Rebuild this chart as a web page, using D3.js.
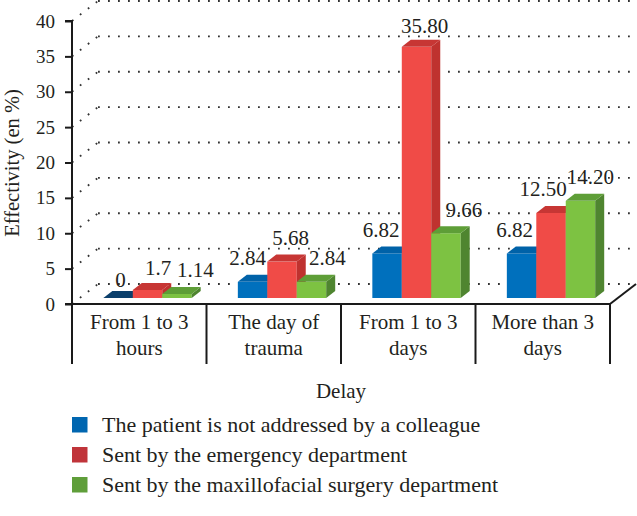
<!DOCTYPE html>
<html>
<head>
<meta charset="utf-8">
<script src="https://cdn.jsdelivr.net/npm/d3@7"></script>
<style>
  html, body { margin: 0; padding: 0; background: #fff; }
  svg { display: block; }
  text { font-family: "Liberation Serif", "Times New Roman", serif; fill: #231f20; }
</style>
</head>
<body>
<svg id="chart" width="637" height="516"></svg>
<script>
// ---- data ----
const categories = ["From 1 to 3\nhours", "The day of\ntrauma", "From 1 to 3\ndays", "More than 3\ndays"];
const seriesNames = [
  "The patient is not addressed by a colleague",
  "Sent by the emergency department",
  "Sent by the maxillofacial surgery department"
];
const notAddressed = [0, 2.84, 6.82, 6.82];
const emergency = [1.7, 5.68, 35.80, 12.50];
const maxillofacial = [1.14, 2.84, 9.66, 14.20];
const notAddressedLabels = ["0", "2.84", "6.82", "6.82"];
const emergencyLabels = ["1.7", "5.68", "35.80", "12.50"];
const maxillofacialLabels = ["1.14", "2.84", "9.66", "14.20"];
const yTicks = [0, 5, 10, 15, 20, 25, 30, 35, 40];
const xTitle = "Delay";
const yTitle = "Effectivity (en %)";

// ---- styles / layout ----
const frontColors = ["#0070bd", "#f04b47", "#7dc242"];
const topColors = ["#0062a8", "#c73634", "#5e9e37"];
const sideColors = ["#005a96", "#bf322f", "#4f8530"];
const zeroTopColor = "#0b3f6b";
const legendColors = ["#0066b0", "#c0343a", "#5f9e3a"];
// label nudges (layout only): dx from bar front centre, dy from top-back edge
const labelDx = [[2.5, -5, -6, -7], [10.5, 8.5, 8, -8], [18.5, 16, 18, 10]];
const labelDy = [[-4, -9.5, -9.5, -9.5], [-8, -9.5, -6.5, -9.5], [-10, -9.5, -9.5, -10]];

const values = [notAddressed, emergency, maxillofacial];
const labels = [notAddressedLabels, emergencyLabels, maxillofacialLabels];

const svg = d3.select("#chart");
const WX = 26, WY = -20;     // wall depth
const BX = 9, BY = -7;       // bar depth
const barFloor = 298;

const x = d3.scaleBand().domain(categories).range([72, 610]).padding(0);
const yAxisScale = d3.scaleLinear().domain([0, 40]).range([304, 21]);
const yBar = d3.scaleLinear().domain([0, 40]).range([302.1, 16.9]);
const bw = x.bandwidth();
const inner = d3.scaleBand().domain([0, 1, 2]).range([bw * 0.233, bw * 0.89]).padding(0);

// ---- gridlines (back wall + left wall) ----
const grid = svg.append("g");
yTicks.forEach(t => {
  const yf = yAxisScale(t);
  grid.append("line")
    .attr("x1", 72 + WX).attr("x2", 640)
    .attr("y1", yf + WY).attr("y2", yf + WY)
    .attr("stroke", "#333").attr("stroke-width", 1.8)
    .attr("stroke-dasharray", "1.8,8.2");
  grid.append("line")
    .attr("x1", 72).attr("y1", yf)
    .attr("x2", 72 + WX).attr("y2", yf + WY)
    .attr("stroke", "#333").attr("stroke-width", 1.8)
    .attr("stroke-dasharray", "1.8,8.2");
});

// ---- bars ----
const barsG = svg.append("g");
categories.forEach((c, ci) => {
  values.forEach((vals, si) => {
    const v = vals[ci];
    const x0 = x(c) + inner(si);
    const x1 = x0 + inner.bandwidth();
    const yt = Math.min(yBar(v), barFloor);
    const g = barsG.append("g");
    if (barFloor - yt > 0.5) {
      g.append("rect").attr("x", x0).attr("y", yt).attr("width", x1 - x0).attr("height", barFloor - yt)
        .attr("fill", frontColors[si]);
      g.append("path")
        .attr("d", `M${x1},${yt}L${x1 + BX},${yt + BY}L${x1 + BX},${barFloor + BY}L${x1},${barFloor}Z`)
        .attr("fill", sideColors[si]);
    }
    g.append("path")
      .attr("d", `M${x0},${yt}L${x1},${yt}L${x1 + BX},${yt + BY}L${x0 + BX},${yt + BY}Z`)
      .attr("fill", (barFloor - yt > 0.5) ? topColors[si] : zeroTopColor);
    // value label
    g.append("text")
      .attr("x", (x0 + x1) / 2 + labelDx[si][ci])
      .attr("y", yt + BY + labelDy[si][ci])
      .attr("text-anchor", "middle")
      .attr("font-size", 21)
      .text(labels[si][ci]);
  });
});

// ---- axes / frame ----
const frame = svg.append("g").attr("stroke", "#1a1a1a").attr("stroke-width", 2).attr("fill", "none");
frame.append("line").attr("x1", 72).attr("x2", 610).attr("y1", 304).attr("y2", 304);
frame.append("line").attr("x1", 610).attr("y1", 304).attr("x2", 610 + WX).attr("y2", 304 + WY);
x.domain().concat([null]).forEach((c, i) => {
  const xx = c === null ? x.range()[1] : x(c);
  frame.append("line").attr("x1", xx).attr("x2", xx).attr("y1", 304).attr("y2", 364);
});

const yAxis = d3.axisLeft(yAxisScale).tickValues(yTicks).tickSize(7).tickPadding(10).tickFormat(d3.format("d"));
const yg = svg.append("g").attr("transform", "translate(72,0)").call(yAxis);
yg.select(".domain").attr("stroke", "#1a1a1a").attr("stroke-width", 2).attr("d", `M-7,${yAxisScale(40)}H0V${yAxisScale(0)}H-7`);
yg.selectAll(".tick line").attr("stroke", "#1a1a1a").attr("stroke-width", 2);
yg.selectAll(".tick text").attr("font-size", 19).attr("font-family", "Liberation Serif").attr("fill", "#231f20").attr("dy", "0.32em");

// category labels
categories.forEach(c => {
  const lines = c.split("\n");
  const t = svg.append("text").attr("text-anchor", "middle").attr("font-size", 21);
  lines.forEach((ln, i) => {
    t.append("tspan").attr("x", x(c) + bw / 2).attr("y", 328.5 + i * 26.7).text(ln);
  });
});

// axis titles
svg.append("text").attr("x", 341).attr("y", 398).attr("text-anchor", "middle").attr("font-size", 21).text(xTitle);
svg.append("text").attr("transform", "translate(18.5,163) rotate(-90)").attr("text-anchor", "middle")
  .attr("font-size", 20.5).text(yTitle);

// ---- legend ----
const legend = svg.append("g");
seriesNames.forEach((s, i) => {
  const yy = 417 + i * 30;
  legend.append("rect").attr("x", 72).attr("y", yy).attr("width", 15.5).attr("height", 15.5).attr("fill", legendColors[i]);
  legend.append("text").attr("x", 102).attr("y", yy + 14.7).attr("font-size", 22).text(s);
});
</script>
</body>
</html>
